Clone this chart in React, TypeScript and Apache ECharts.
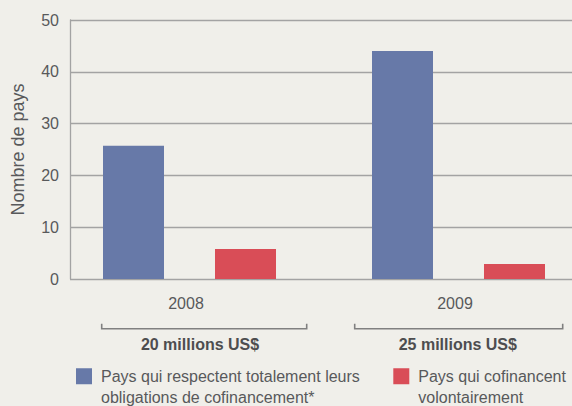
import React, { useEffect, useRef } from 'react';
import * as echarts from 'echarts';

const years = ['2008', '2009'];
const fullyMeeting = [25.7, 44];
const voluntary = [5.8, 2.9];
const budgets = ['20 millions US$', '25 millions US$'];
const seriesNames = [
  'Pays qui respectent totalement leurs obligations de cofinancement*',
  'Pays qui cofinancent volontairement',
];
const legendLines = [
  ['Pays qui respectent totalement leurs', 'obligations de cofinancement*'],
  ['Pays qui cofinancent', 'volontairement'],
];
const yMin = 0;
const yMax = 50;
const yStep = 10;
const yAxisTitle = 'Nombre de pays';

const FONT = '"Liberation Sans", Arial, sans-serif';
const TEXT = '#58595b';
const BOLD_TEXT = '#4d4d4f';
const GRID = '#a3a3a3';
const BG = '#f0efea';
const BLUE = '#6779a8';
const RED = '#d94d57';
const BRACKET = '#808080';

export default function App() {
  const ref = useRef<HTMLDivElement>(null);

  useEffect(() => {
    if (!ref.current) return;
    const chart = echarts.init(ref.current, undefined, { renderer: 'svg' });

    const legendFor = (idx: number, left: number) => ({
      show: true,
      data: [seriesNames[idx]],
      left,
      top: 344,
      padding: 0,
      orient: 'horizontal',
      selectedMode: false,
      icon: 'rect',
      itemWidth: 16,
      itemHeight: 16,
      // leading empty line keeps the first text line level with the swatch
      formatter: () => '\n' + legendLines[idx].join('\n'),
      textStyle: {
        fontFamily: FONT,
        fontSize: 16,
        color: TEXT,
        lineHeight: 21.5,
        padding: [0, 0, 0, 4],
      },
    });

    const brackets = [
      [101.7, 306.7],
      [354.7, 562.7],
    ];
    const budgetCenters = [200, 457.8];

    const option: any = {
      animation: false,
      backgroundColor: BG,
      textStyle: { fontFamily: FONT },
      grid: [
        { left: 70, top: 20, width: 520, bottom: 127, outerBoundsMode: 'none', containLabel: false },
        { left: 55, top: 20, width: 538, bottom: 127, outerBoundsMode: 'none', containLabel: false },
      ],
      legend: [legendFor(0, 76), legendFor(1, 393.3)],
      xAxis: [
        { gridIndex: 0, type: 'category', data: years, show: false },
        {
          gridIndex: 1,
          type: 'category',
          data: years,
          axisLine: { show: false },
          axisTick: { show: false },
          axisLabel: {
            fontFamily: FONT,
            fontSize: 16,
            color: TEXT,
            lineHeight: 16,
            margin: 16,
            padding: [0, 7, 0, 0],
          },
        },
      ],
      yAxis: [
        {
          gridIndex: 0,
          type: 'value',
          min: yMin,
          max: yMax,
          interval: yStep,
          name: yAxisTitle,
          nameLocation: 'middle',
          nameRotate: 90,
          nameGap: 43.5,
          nameTextStyle: { fontFamily: FONT, fontSize: 18, color: TEXT, lineHeight: 18 },
          axisLine: { show: true, lineStyle: { color: GRID, width: 1.3 } },
          axisTick: { show: false },
          axisLabel: { fontFamily: FONT, fontSize: 16, color: TEXT, margin: 11 },
          splitLine: { show: true, lineStyle: { color: GRID, width: 1.3 } },
        },
        {
          gridIndex: 1,
          type: 'value',
          min: yMin,
          max: yMax,
          interval: yStep,
          show: false,
          splitLine: { show: false },
        },
      ],
      series: [
        {
          type: 'bar',
          name: seriesNames[0],
          xAxisIndex: 1,
          yAxisIndex: 1,
          data: fullyMeeting,
          barWidth: 61,
          barGap: '83.6%',
          itemStyle: { color: BLUE },
          z: 3,
        },
        {
          type: 'bar',
          name: seriesNames[1],
          xAxisIndex: 1,
          yAxisIndex: 1,
          data: voluntary,
          barWidth: 61,
          barGap: '83.6%',
          itemStyle: { color: RED },
          z: 3,
        },
      ],
      graphic: [
        ...brackets.map(([a, b]) => ({
          type: 'polyline',
          silent: true,
          shape: {
            points: [
              [a, 323.7],
              [a, 328.7],
              [b, 328.7],
              [b, 323.7],
            ],
          },
          style: { stroke: BRACKET, lineWidth: 1.6, fill: null },
        })),
        ...budgets.map((t, i) => ({
          type: 'text',
          silent: true,
          x: budgetCenters[i],
          y: 344.3,
          style: {
            text: t,
            fontFamily: FONT,
            fontSize: 16,
            fontWeight: 'bold',
            fill: BOLD_TEXT,
            align: 'center',
            verticalAlign: 'middle',
            textAlign: 'center',
            textVerticalAlign: 'middle',
          },
        })),
      ],
    };

    chart.setOption(option);
    return () => chart.dispose();
  }, []);

  return (
    <div
      style={{ position: 'fixed', left: 0, top: 0, width: 572, height: 406, background: BG }}
    >
      <div ref={ref} style={{ width: 572, height: 406 }} />
    </div>
  );
}
